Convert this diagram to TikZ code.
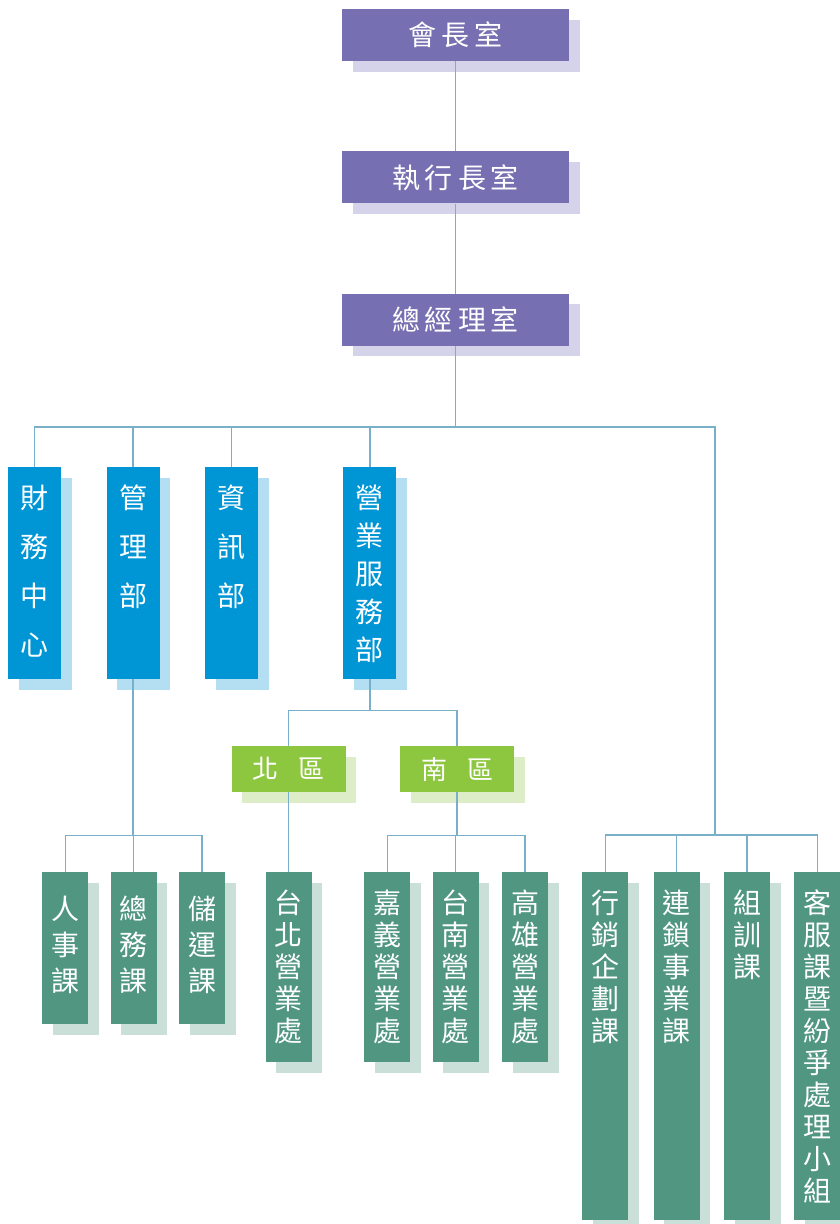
\documentclass[tikz,border=0pt]{standalone}
\usepackage{fontspec}
\setmainfont{Noto Sans CJK TC}
\usetikzlibrary{positioning}

\definecolor{headpurple}{RGB}{118,112,178}
\definecolor{headshadow}{RGB}{213,211,233}
\definecolor{deptblue}{RGB}{0,150,214}
\definecolor{deptshadow}{RGB}{180,223,242}
\definecolor{areagreen}{RGB}{141,198,63}
\definecolor{areashadow}{RGB}{220,237,200}
\definecolor{unitteal}{RGB}{80,150,128}
\definecolor{unitshadow}{RGB}{201,223,216}
\definecolor{linkblue}{RGB}{122,175,201}

\newcommand{\tsp}{\hspace{5pt}}
% height, first baseline, pitch, text
\newcommand{\vcol}[4]{\parbox[c][#1][t]{32pt}{\fontsize{28pt}{#3}\selectfont\centering\rule{0pt}{#2}#4}}

\tikzset{
  offset shadow/.style={preaction={fill=#1, transform canvas={shift={(10.5pt,-10.5pt)}}}},
  headbox/.style={fill=headpurple, offset shadow=headshadow, text=white, inner sep=0pt,
    minimum width=227pt, minimum height=52pt, font=\fontsize{28pt}{32pt}\selectfont},
  deptbox/.style={fill=deptblue, offset shadow=deptshadow, text=white, inner sep=0pt, minimum width=53pt},
  areabox/.style={fill=areagreen, offset shadow=areashadow, text=white, inner sep=0pt,
    minimum width=114pt, minimum height=46pt, font=\fontsize{26pt}{30pt}\selectfont},
  unitbox/.style={fill=unitteal, offset shadow=unitshadow, text=white, inner sep=0pt, minimum width=46pt},
  link/.style={draw=linkblue, line width=1.3pt}
}

\begin{document}
\begin{tikzpicture}[x=1pt, y=-1pt]
	\fill[white] (0,0) rectangle (839,1224);
	\useasboundingbox (0,0) rectangle (839,1224);

	\node[headbox] (pres) at (455.5,35) {會\tsp 長\tsp 室};
	\node[headbox, below=90pt of pres] (ceo) {執\tsp 行\tsp 長\tsp 室};
	\node[headbox, below=90pt of ceo] (gm) {總\tsp 經\tsp 理\tsp 室};

	\node[deptbox, anchor=north west] (fin) at (8,467) {\vcol{212pt}{41pt}{49pt}{財\\務\\中\\心}};
	\node[deptbox, right=45pt of fin] (admin) {\vcol{212pt}{41pt}{49pt}{管\\理\\部}};
	\node[deptbox, right=45pt of admin] (it) {\vcol{212pt}{41pt}{49pt}{資\\訊\\部}};
	\node[deptbox, right=85pt of it] (sales) {\vcol{212pt}{41pt}{38pt}{營\\業\\服\\務\\部}};

	\node[areabox, anchor=north west] (north) at (231.5,746) {北\hspace{20pt}區};
	\node[areabox, right=54pt of north] (south) {南\hspace{20pt}區};

	\node[unitbox, anchor=north west] (hr) at (42,872) {\vcol{152pt}{47pt}{36pt}{人\\事\\課}};
	\node[unitbox, right=22pt of hr] (ga) {\vcol{152pt}{47pt}{36pt}{總\\務\\課}};
	\node[unitbox, right=22pt of ga] (logi) {\vcol{152pt}{47pt}{36pt}{儲\\運\\課}};

	\node[unitbox, anchor=north west] (taipei) at (265.5,872) {\vcol{190pt}{41pt}{32pt}{台\\北\\營\\業\\處}};
	\node[unitbox, anchor=north west] (chiayi) at (364,872) {\vcol{190pt}{41pt}{32pt}{嘉\\義\\營\\業\\處}};
	\node[unitbox, right=22pt of chiayi] (tainan) {\vcol{190pt}{41pt}{32pt}{台\\南\\營\\業\\處}};
	\node[unitbox, right=23pt of tainan] (kaohsiung) {\vcol{190pt}{41pt}{32pt}{高\\雄\\營\\業\\處}};

	\node[unitbox, anchor=north west] (mkt) at (582,872) {\vcol{348pt}{41pt}{32pt}{行\\銷\\企\\劃\\課}};
	\node[unitbox, right=25pt of mkt] (chain) {\vcol{348pt}{41pt}{32pt}{連\\鎖\\事\\業\\課}};
	\node[unitbox, right=24pt of chain] (train) {\vcol{348pt}{41pt}{32pt}{組\\訓\\課}};
	\node[unitbox, right=24pt of train] (cs) {\vcol{348pt}{41pt}{32pt}{客\\服\\課\\暨\\紛\\爭\\處\\理\\小\\組}};

	% junctions
	\path (gm.south) ++(0,81) coordinate (bus);
	\coordinate (jR) at (715,835);
	\path (admin.south) ++(0,156) coordinate (jA);
	\path (sales.south) ++(0,31) coordinate (jS);
	\path (south.south) ++(0,43) coordinate (jSo);

	\draw[link] (pres) -- (ceo);
	\draw[link] (ceo) -- (gm);
	\draw[link] (gm.south) -- (bus);
	\foreach \d in {fin,admin,it,sales}
		\draw[link] (\d.north) |- (bus);
	\draw[link] (jR) |- (bus);
	\foreach \u in {mkt,chain,train,cs}
		\draw[link] (\u.north) |- (jR);

	\draw[link] (admin.south) -- (jA);
	\foreach \u in {hr,ga,logi}
		\draw[link] (\u.north) |- (jA);

	\draw[link] (sales.south) -- (jS);
	\draw[link] (north.north) |- (jS);
	\draw[link] (south.north) |- (jS);
	\draw[link] (north.south) -- (north.south |- taipei.north);
	\draw[link] (south.south) -- (jSo);
	\foreach \u in {chiayi,tainan,kaohsiung}
		\draw[link] (\u.north) |- (jSo);
\end{tikzpicture}
\end{document}
